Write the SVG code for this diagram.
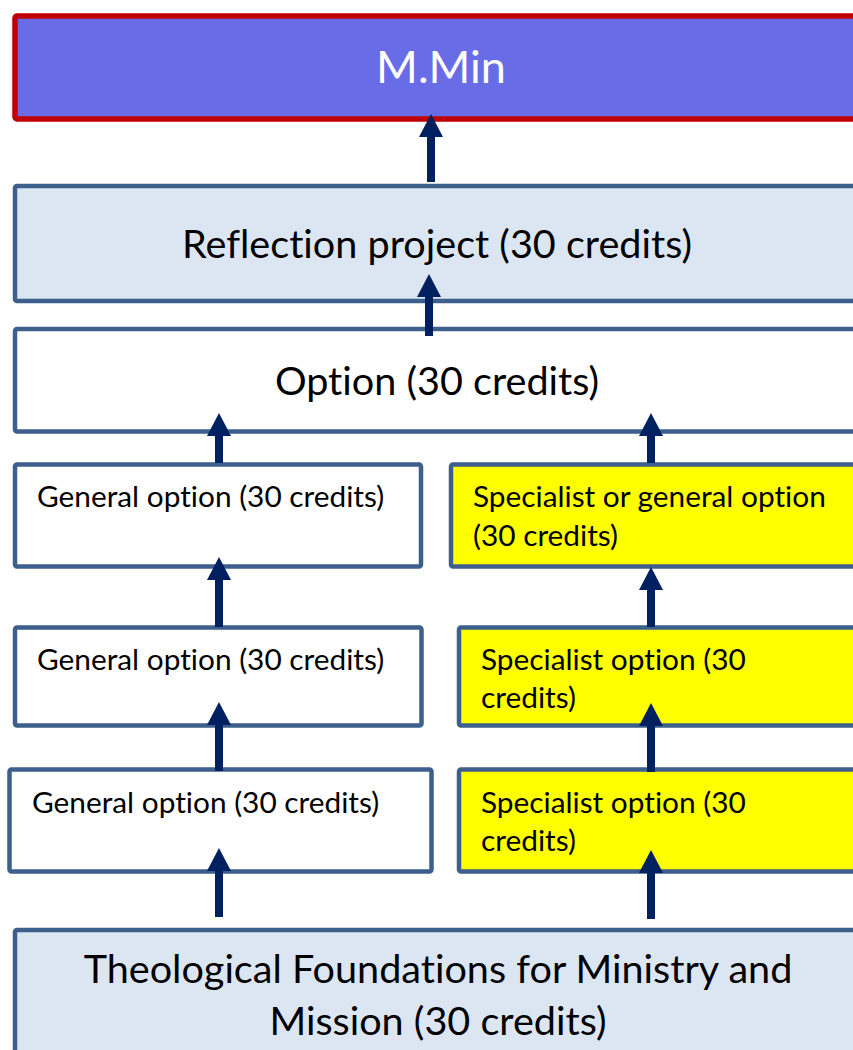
<svg xmlns="http://www.w3.org/2000/svg" width="853" height="1050" viewBox="0 0 853 1050">
<defs>
<style>
.box{stroke:#3C5F8C;stroke-width:4.5;}
.w{fill:#FFFFFF;}
.b{fill:#DCE6F2;}
.y{fill:#FFFF00;}
.t{font-family:Lato,"Open Sans",sans-serif;fill:#000;font-variant-ligatures:none;}
.big{font-size:39.6px;}
.sm{font-size:29.8px;}
.arr{stroke:#002060;stroke-width:8;fill:none;marker-end:url(#ah);}
</style>
<marker id="ah" markerUnits="userSpaceOnUse" markerWidth="24" markerHeight="24" viewBox="0 0 24 24" refX="0" refY="12" orient="auto">
<path d="M0,0 L23,12 L0,24 Z" fill="#002060"/>
</marker>
</defs>
<rect width="853" height="1050" fill="#FFFFFF"/>
<g id="mmin">
<rect x="15" y="16" width="900" height="103" rx="2" fill="#686CE7" stroke="#C00000" stroke-width="5.5"/>
<text class="t" x="441" y="83" text-anchor="middle" font-size="45" style="fill:#FFFFFF">M.Min</text>
</g>
<g id="reflection">
<rect class="box b" x="15" y="186" width="900" height="115" rx="2"/>
<text class="t big" x="437" y="258" text-anchor="middle">Reflection project (30 credits)</text>
</g>
<g id="option">
<rect class="box w" x="15" y="329" width="900" height="102.5" rx="2"/>
<text class="t big" x="437" y="395" text-anchor="middle">Option (30 credits)</text>
</g>
<g id="gen1">
<rect class="box w" x="15" y="464.5" width="406" height="102" rx="2"/>
<text class="t sm" x="37" y="507">General option (30 credits)</text>
</g>
<g id="spec1">
<rect class="box y" x="451" y="464.5" width="460" height="102" rx="2"/>
<text class="t sm" x="473" y="507">Specialist or general option</text>
<text class="t sm" x="473" y="546">(30 credits)</text>
</g>
<g id="gen2">
<rect class="box w" x="15" y="627.5" width="406.5" height="98" rx="2"/>
<text class="t sm" x="37" y="670">General option (30 credits)</text>
</g>
<g id="spec2">
<rect class="box y" x="459" y="627.5" width="460" height="98" rx="2"/>
<text class="t sm" x="481" y="670">Specialist option (30</text>
<text class="t sm" x="481" y="708">credits)</text>
</g>
<g id="gen3">
<rect class="box w" x="9.5" y="769.5" width="422" height="102" rx="2"/>
<text class="t sm" x="32" y="813">General option (30 credits)</text>
</g>
<g id="spec3">
<rect class="box y" x="459" y="769.5" width="460" height="102" rx="2"/>
<text class="t sm" x="481" y="813">Specialist option (30</text>
<text class="t sm" x="481" y="851">credits)</text>
</g>
<g id="foundations">
<rect class="box b" x="15" y="930" width="900" height="160" rx="2"/>
<text class="t big" x="438" y="983" text-anchor="middle">Theological Foundations for Ministry and</text>
<text class="t big" x="438" y="1035" text-anchor="middle">Mission (30 credits)</text>
</g>
<g id="connectors">
<line class="arr" x1="431" y1="182" x2="431" y2="137"/>
<line class="arr" x1="429" y1="336" x2="429" y2="297"/>
<line class="arr" x1="219" y1="463" x2="219" y2="436"/>
<line class="arr" x1="651" y1="463" x2="651" y2="436"/>
<line class="arr" x1="219" y1="627" x2="219" y2="580"/>
<line class="arr" x1="651" y1="627" x2="651" y2="590"/>
<line class="arr" x1="219" y1="771" x2="219" y2="725"/>
<line class="arr" x1="651" y1="772" x2="651" y2="726"/>
<line class="arr" x1="219" y1="917" x2="219" y2="871"/>
<line class="arr" x1="651" y1="919" x2="651" y2="873"/>
</g>
</svg>
